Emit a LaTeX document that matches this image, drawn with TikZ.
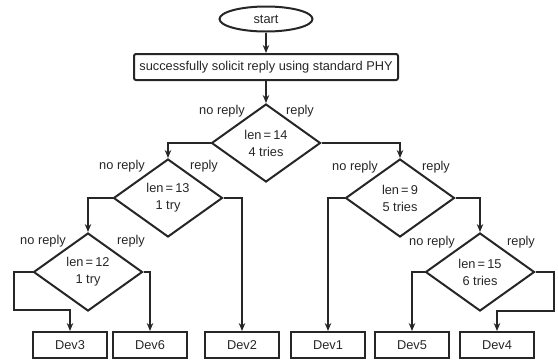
\documentclass[tikz,border=0pt]{standalone}
\usepackage{fontspec}
\setmainfont{Liberation Sans}
\usetikzlibrary{shapes.geometric,arrows.meta}
\definecolor{ink}{HTML}{262626}
\begin{document}
\begin{tikzpicture}[x=1bp,y=-1bp,
  every node/.style={font=\fontsize{12.8bp}{17bp}\selectfont, text=ink},
  line/.style={draw=ink, line width=2bp},
  arr/.style={line, -{Stealth[length=8bp,width=6.5bp]}},
  dec/.style={line, diamond, aspect=1.4, inner sep=0pt, minimum width=109bp, minimum height=78bp, align=center},
  dev/.style={line, rectangle, minimum width=74bp, minimum height=26bp, inner sep=0pt},
  lbl/.style={inner sep=0pt}
]
\useasboundingbox (0,0) rectangle (558,363);

\node[line, ellipse, minimum width=93bp, minimum height=25bp, inner sep=0pt] (start) at (266,19) {start};
\node[line, rectangle, rounded corners=2bp, minimum width=264bp, minimum height=26bp, inner sep=0pt] (solicit) at (266,67) {successfully solicit reply using standard PHY};

\node[dec] (d1) at (266,143) {len\,=\,14\\4 tries};
\node[dec] (d2) at (168,198) {len\,=\,13\\1 try};
\node[dec] (d3) at (88,272) {len\,=\,12\\1 try};
\node[dec] (d4) at (400,198) {len\,=\,9\\5 tries};
\node[dec] (d5) at (480,272) {len\,=\,15\\6 tries};

\node[dev] (dev3) at (70,345) {Dev3};
\node[dev] (dev6) at (150,345) {Dev6};
\node[dev] (dev2) at (242,345) {Dev2};
\node[dev] (dev1) at (328,345) {Dev1};
\node[dev] (dev5) at (412,345) {Dev5};
\node[dev] (dev4) at (497,345) {Dev4};

% labels
\node[lbl] (l1n) at (222,111) {no reply};
\node[lbl] (l1r) at (300,111) {reply};
\node[lbl] (l2n) at (122,166) {no reply};
\node[lbl] (l2r) at (204,166) {reply};
\node[lbl] (l3n) at (43,241) {no reply};
\node[lbl] (l3r) at (131,241) {reply};
\node[lbl] (l4n) at (355,167) {no reply};
\node[lbl] (l4r) at (436,167) {reply};
\node[lbl] (l5n) at (432,242) {no reply};
\node[lbl] (l5r) at (521,242) {reply};

% connectors
\draw[arr] (start) -- (solicit);
\draw[arr] (solicit) -- (d1.north);
\draw[arr] (d1.west) -| (d2.north);
\draw[arr] (d1.east) -| (d4.north);
\draw[arr] (d2.west) -| (d3.north);
\draw[arr] (d2.east) -| (dev2.north);
\coordinate (c3) at (14,310);
\draw[arr] (d3.west) -| (c3) -| (dev3.north);
\draw[arr] (d3.east) -| (dev6.north);
\draw[arr] (d4.west) -| (dev1.north);
\draw[arr] (d4.east) -| (d5.north);
\draw[arr] (d5.west) -| (dev5.north);
\coordinate (c5) at (554,311);
\draw[arr] (d5.east) -| (c5) -| (dev4.north);
\end{tikzpicture}
\end{document}
